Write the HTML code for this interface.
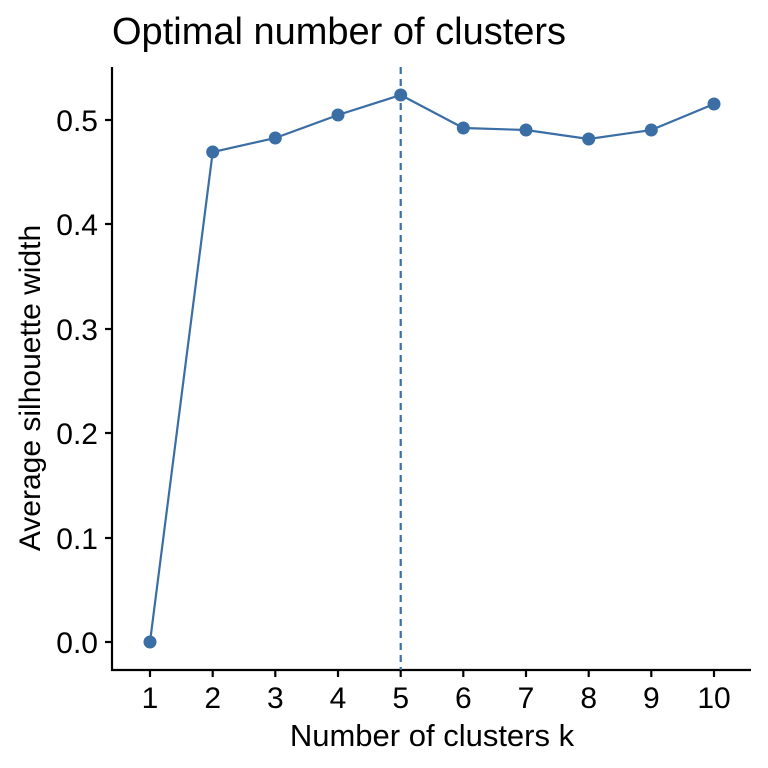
<!DOCTYPE html>
<html><head><style>body{margin:0;background:#fff}svg{display:block}</style></head>
<body>
<svg width="768" height="768" xmlns="http://www.w3.org/2000/svg" font-family="Liberation Sans, sans-serif">
<rect width="768" height="768" fill="#fff"/>
<text x="112" y="44" font-size="38" fill="#000">Optimal number of clusters</text>
<line x1="112" y1="67" x2="112" y2="671" stroke="#000" stroke-width="2.2"/>
<line x1="111" y1="670" x2="751" y2="670" stroke="#000" stroke-width="2.2"/>
<g stroke="#000" stroke-width="2.2">
<line x1="105" y1="642" x2="112" y2="642"/><line x1="105" y1="538" x2="112" y2="538"/><line x1="105" y1="433" x2="112" y2="433"/><line x1="105" y1="329" x2="112" y2="329"/><line x1="105" y1="224" x2="112" y2="224"/><line x1="105" y1="120" x2="112" y2="120"/>
</g>
<g font-size="30" text-anchor="end" fill="#000">
<text x="98" y="653">0.0</text><text x="98" y="549">0.1</text><text x="98" y="444">0.2</text><text x="98" y="340">0.3</text><text x="98" y="235">0.4</text><text x="98" y="131">0.5</text>
</g>
<g stroke="#000" stroke-width="2.2">
<line x1="150" y1="670" x2="150" y2="677"/><line x1="212.7" y1="670" x2="212.7" y2="677"/><line x1="275.3" y1="670" x2="275.3" y2="677"/><line x1="338" y1="670" x2="338" y2="677"/><line x1="400.7" y1="670" x2="400.7" y2="677"/><line x1="463.3" y1="670" x2="463.3" y2="677"/><line x1="526" y1="670" x2="526" y2="677"/><line x1="588.7" y1="670" x2="588.7" y2="677"/><line x1="651.3" y1="670" x2="651.3" y2="677"/><line x1="714" y1="670" x2="714" y2="677"/>
</g>
<g font-size="30" text-anchor="middle" fill="#000">
<text x="150" y="708">1</text><text x="212.7" y="708">2</text><text x="275.3" y="708">3</text><text x="338" y="708">4</text><text x="400.7" y="708">5</text><text x="463.3" y="708">6</text><text x="526" y="708">7</text><text x="588.7" y="708">8</text><text x="651.3" y="708">9</text><text x="714" y="708">10</text>
</g>
<text x="432" y="746" font-size="31" text-anchor="middle">Number of clusters k</text>
<text transform="translate(40,388) rotate(-90)" font-size="30" text-anchor="middle">Average silhouette width</text>
<line x1="400.7" y1="67" x2="400.7" y2="670" stroke="#3A6EA5" stroke-width="2.2" stroke-dasharray="7,5"/>
<polyline fill="none" stroke="#3A6EA5" stroke-width="2.2" points="150,642 212.7,152 275.3,138 338,115 400.7,95 463.3,128 526,130 588.7,139 651.3,130 714,104"/>
<g fill="#3A6EA5">
<circle cx="150" cy="642" r="6.5"/><circle cx="212.7" cy="152" r="6.5"/><circle cx="275.3" cy="138" r="6.5"/><circle cx="338" cy="115" r="6.5"/><circle cx="400.7" cy="95" r="6.5"/><circle cx="463.3" cy="128" r="6.5"/><circle cx="526" cy="130" r="6.5"/><circle cx="588.7" cy="139" r="6.5"/><circle cx="651.3" cy="130" r="6.5"/><circle cx="714" cy="104" r="6.5"/>
</g>
</svg>
</body></html>
